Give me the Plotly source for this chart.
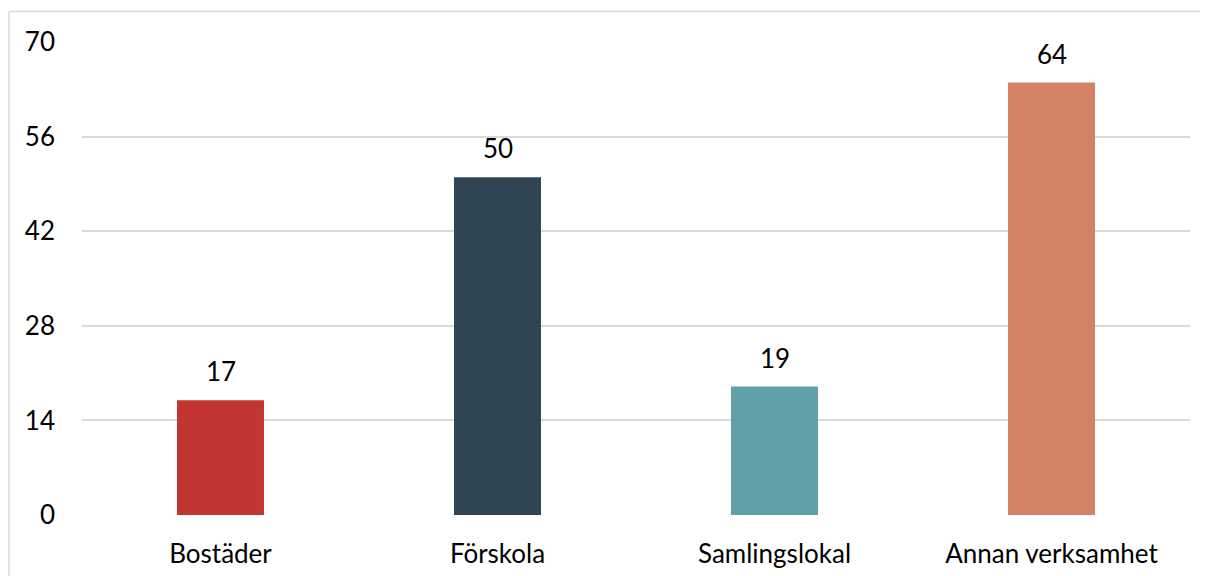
import plotly.graph_objects as go

categories = ["Bostäder", "Förskola", "Samlingslokal", "Annan verksamhet"]
values = [17, 50, 19, 64]
colors = ["#c23531", "#2f4554", "#61a0a8", "#d48265"]
tick_vals = [0, 14, 28, 42, 56, 70]

FONT = "Lato, 'Gill Sans', sans-serif"

fig = go.Figure()
fig.add_trace(go.Bar(
    x=categories, y=values, marker=dict(color=colors, line=dict(width=0)),
    hoverinfo="x+y",
))

for c, v in zip(categories, values):
    fig.add_annotation(x=c, y=v, text=str(v), showarrow=False,
                       yanchor="bottom", yshift=11,
                       font=dict(family=FONT, size=26, color="#000000"))

border = dict(color="#d9d9d9", width=1.5)
fig.update_layout(
    width=1200, height=568,
    margin=dict(l=74, r=18, t=34, b=61, autoexpand=False),
    paper_bgcolor="#ffffff", plot_bgcolor="#ffffff",
    bargap=0.686,
    showlegend=False,
    font=dict(family=FONT, size=26, color="#000000"),
    xaxis=dict(showgrid=False, showline=False, zeroline=False,
               automargin=False,
               tickfont=dict(family=FONT, size=26, color="#000000"),
               ticks="", ticklabelstandoff=21),
    yaxis=dict(range=[0, 70], tickvals=tick_vals, showgrid=True,
               automargin=False,
               gridcolor="#d9d9d9", gridwidth=1.5, zeroline=False,
               showline=False, ticks="",
               tickfont=dict(family=FONT, size=26, color="#000000"),
               ticklabelstandoff=26),
    shapes=[
        dict(type="line", xref="paper", yref="paper",
             x0=-0.0659, x1=1.1, y0=1.0645, y1=1.0645, line=border, layer="below"),
        dict(type="line", xref="paper", yref="paper",
             x0=-0.0659, x1=-0.0659, y0=-0.3, y1=1.0645, line=border, layer="below"),
    ],
)

fig.write_html(
    "out.html",
    post_script="document.documentElement.style.overflow='hidden';"
                "document.body.style.overflow='hidden';",
)
